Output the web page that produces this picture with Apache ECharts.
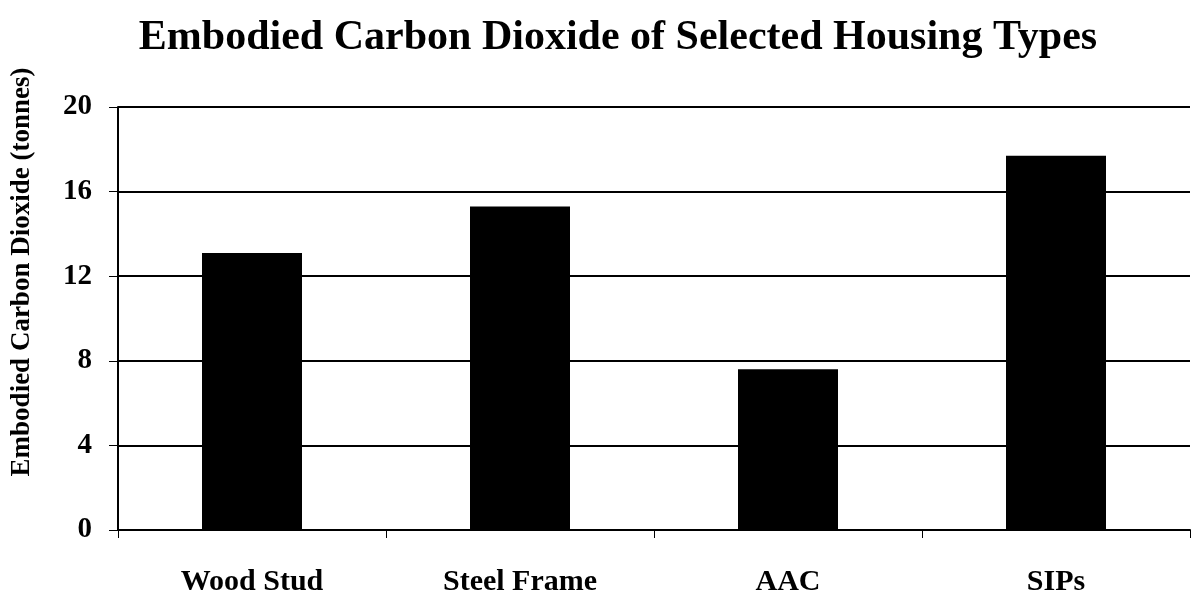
<!DOCTYPE html>
<html>
<head>
<meta charset="utf-8">
<script src="https://cdn.jsdelivr.net/npm/echarts@6/dist/echarts.min.js"></script>
<style>
html,body{margin:0;padding:0;background:#fff;}
#chart{width:1193px;height:601px;}
</style>
</head>
<body>
<div id="chart"></div>
<script>
const chartTitle = 'Embodied Carbon Dioxide of Selected Housing Types';
const yAxisTitle = 'Embodied Carbon Dioxide (tonnes)';
const categories = ['Wood Stud', 'Steel Frame', 'AAC', 'SIPs'];
const co2Values = [13.1, 15.3, 7.6, 17.7];
const yTicks = [0, 4, 8, 12, 16, 20];

const serif = '"Liberation Serif", "Times New Roman", serif';
const chart = echarts.init(document.getElementById('chart'));
chart.setOption({
  backgroundColor: '#fff',
  animation: false,
  title: {
    text: chartTitle,
    left: 613,
    textAlign: 'center',
    top: 12,
    textStyle: { fontFamily: serif, fontWeight: 'bold', fontSize: 42, color: '#000' }
  },
  graphic: [{
    type: 'text',
    x: 22,
    y: 272,
    rotation: Math.PI / 2,
    style: {
      text: yAxisTitle,
      font: 'bold 27px ' + serif,
      fill: '#000',
      textAlign: 'center',
      textVerticalAlign: 'middle'
    }
  }],
  grid: { left: 118, right: 3, top: 107, bottom: 71, containLabel: false },
  xAxis: {
    type: 'category',
    data: categories,
    axisLine: { show: true, lineStyle: { color: '#000', width: 2 } },
    axisTick: { show: true, length: 8, alignWithLabel: false, lineStyle: { color: '#000', width: 1 } },
    axisLabel: { margin: 37, fontFamily: serif, fontWeight: 'bold', fontSize: 30, color: '#000' },
    splitLine: { show: false }
  },
  yAxis: {
    type: 'value',
    min: yTicks[0],
    max: yTicks[yTicks.length - 1],
    interval: 4,
    axisLine: { show: true, lineStyle: { color: '#000', width: 2 } },
    axisTick: { show: true, length: 9, lineStyle: { color: '#000', width: 1 } },
    axisLabel: { margin: 26, fontFamily: serif, fontWeight: 'bold', fontSize: 29, color: '#000' },
    splitLine: { show: true, lineStyle: { color: '#000', width: 2 } }
  },
  series: [{
    type: 'bar',
    data: co2Values,
    barWidth: 100,
    itemStyle: { color: '#000' }
  }]
});
</script>
</body>
</html>
